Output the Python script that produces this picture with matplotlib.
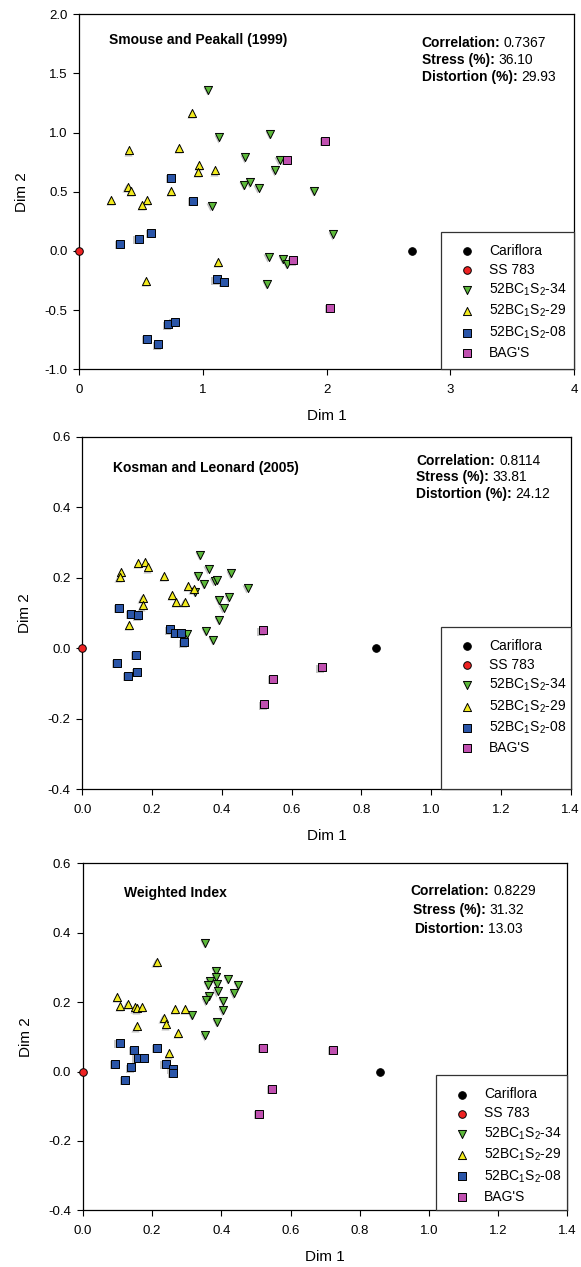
import matplotlib
matplotlib.use("Agg")
import matplotlib.pyplot as plt
import matplotlib.transforms as mtransforms
from matplotlib.patches import Rectangle
from matplotlib.ticker import FormatStrFormatter

plt.rcParams['font.family'] = ['Liberation Sans', 'DejaVu Sans']
plt.rcParams['mathtext.fontset'] = 'custom'
plt.rcParams['mathtext.rm'] = 'Liberation Sans'
plt.rcParams['mathtext.it'] = 'Liberation Sans:italic'
plt.rcParams['mathtext.bf'] = 'Liberation Sans:bold'

# legend labels, in legend order
LABELS = ['Cariflora', 'SS 783', r'52BC$_1$S$_2$-34', r'52BC$_1$S$_2$-29',
          r'52BC$_1$S$_2$-08', "BAG'S"]

# ---- Smouse and Peakall (1999) ----
SP_CARIFLORA = [(2.69, 0.0)]
SP_SS783 = [(0.0, 0.0)]
SP_34 = [(1.04, 1.36), (1.13, 0.96), (1.54, 0.99), (1.34, 0.79), (1.62, 0.77),
         (1.58, 0.68), (1.33, 0.56), (1.38, 0.58), (1.45, 0.53), (1.07, 0.38),
         (1.90, 0.51), (2.05, 0.14), (1.53, -0.05), (1.65, -0.07), (1.68, -0.11),
         (1.52, -0.28)]
SP_29 = [(0.91, 1.17), (0.40, 0.85), (0.81, 0.87), (0.97, 0.73), (0.96, 0.67),
         (1.10, 0.68), (0.39, 0.54), (0.42, 0.51), (0.74, 0.51), (0.26, 0.43),
         (0.55, 0.43), (0.51, 0.39), (1.12, -0.09), (0.54, -0.25)]
SP_08 = [(0.74, 0.62), (0.92, 0.42), (0.58, 0.15), (0.48, 0.10), (0.33, 0.06),
         (1.11, -0.24), (1.17, -0.26), (0.72, -0.62), (0.77, -0.60), (0.55, -0.74),
         (0.64, -0.79)]
SP_BAGS = [(1.99, 0.93), (1.68, 0.77), (1.73, -0.08), (2.03, -0.48)]
SP_STATS = [('Correlation:', '0.7367'), ('Stress (%):', '36.10'),
            ('Distortion (%):', '29.93')]

# ---- Kosman and Leonard (2005) ----
KL_CARIFLORA = [(0.842, 0.0)]
KL_SS783 = [(0.0, 0.0)]
KL_34 = [(0.337, 0.264), (0.362, 0.224), (0.332, 0.206), (0.427, 0.212),
         (0.349, 0.182), (0.379, 0.191), (0.385, 0.193), (0.474, 0.171),
         (0.323, 0.160), (0.393, 0.136), (0.420, 0.144), (0.405, 0.115),
         (0.393, 0.079), (0.356, 0.049), (0.376, 0.023), (0.299, 0.040)]
KL_29 = [(0.160, 0.242), (0.181, 0.244), (0.189, 0.229), (0.112, 0.216),
         (0.107, 0.202), (0.234, 0.206), (0.304, 0.177), (0.319, 0.167),
         (0.258, 0.150), (0.269, 0.131), (0.293, 0.131), (0.173, 0.142),
         (0.173, 0.121), (0.134, 0.066)]
KL_08 = [(0.106, 0.113), (0.139, 0.096), (0.161, 0.093), (0.251, 0.053),
         (0.267, 0.043), (0.282, 0.043), (0.292, 0.016), (0.155, -0.020),
         (0.100, -0.041), (0.156, -0.067), (0.132, -0.078)]
KL_BAGS = [(0.517, 0.050), (0.548, -0.088), (0.686, -0.055), (0.520, -0.160)]
KL_STATS = [('Correlation:', '0.8114'), ('Stress (%):', '33.81'),
            ('Distortion (%):', '24.12')]

# ---- Weighted Index ----
WI_CARIFLORA = [(0.859, 0.0)]
WI_SS783 = [(0.0, 0.0)]
WI_34 = [(0.354, 0.370), (0.385, 0.290), (0.384, 0.273), (0.367, 0.260),
         (0.387, 0.253), (0.362, 0.249), (0.419, 0.267), (0.449, 0.249),
         (0.389, 0.231), (0.365, 0.217), (0.437, 0.225), (0.355, 0.205),
         (0.406, 0.203), (0.406, 0.176), (0.315, 0.163), (0.387, 0.144),
         (0.354, 0.104)]
WI_29 = [(0.213, 0.315), (0.098, 0.215), (0.108, 0.188), (0.129, 0.195),
         (0.151, 0.185), (0.156, 0.182), (0.170, 0.187), (0.267, 0.180),
         (0.296, 0.180), (0.233, 0.154), (0.240, 0.136), (0.155, 0.130),
         (0.276, 0.112), (0.250, 0.052)]
WI_08 = [(0.106, 0.082), (0.092, 0.023), (0.147, 0.063), (0.158, 0.040),
         (0.176, 0.040), (0.215, 0.069), (0.239, 0.023), (0.139, 0.012),
         (0.122, -0.025), (0.259, 0.008), (0.261, -0.003)]
WI_BAGS = [(0.521, 0.069), (0.724, 0.063), (0.546, -0.050), (0.509, -0.122)]
WI_STATS = [('Correlation:', '0.8229'), ('Stress (%):', '31.32'),
            ('Distortion:', '13.03')]

# marker styles per group (same order as LABELS)
STYLES = [
    dict(marker='o', c='black', s=30),
    dict(marker='o', c='#ee2222', s=30),
    dict(marker='v', c='#5cb83a', s=34),
    dict(marker='^', c='#f2ea1e', s=34),
    dict(marker='s', c='#2a55a8', s=26),
    dict(marker='s', c='#c050b0', s=26),
]

W, H = 581, 1267
fig = plt.figure(figsize=(W / 100, H / 100), dpi=100)


def px_rect(left, right, top, bottom):
    return [left / W, 1 - bottom / H, (right - left) / W, (bottom - top) / H]


def draw_panel(rect, groups, xlim, xticks, xfmt, ylim, yticks, title, title_xy,
               stats, stats_x, stats_y0, stats_dy, leg_left, leg_top):
    ax = fig.add_axes(rect)
    shadow = mtransforms.offset_copy(ax.transData, fig=fig, x=-1.2, y=-1.2, units='dots')
    handles = []
    for pts, st in zip(groups, STYLES):
        xs = [p[0] for p in pts]
        ys = [p[1] for p in pts]
        if st['c'] not in ('black', '#ee2222'):
            ax.scatter(xs, ys, marker=st['marker'], s=st['s'], c='#c4c4c4',
                       linewidths=0, transform=shadow, zorder=2, clip_on=False)
        h = ax.scatter(xs, ys, marker=st['marker'], s=st['s'], c=st['c'],
                       edgecolors='black', linewidths=0.7, zorder=3, clip_on=False)
        handles.append(h)

    ax.set_xlim(*xlim)
    ax.set_ylim(*ylim)
    ax.set_xticks(xticks)
    ax.set_yticks(yticks)
    ax.xaxis.set_major_formatter(FormatStrFormatter(xfmt))
    ax.yaxis.set_major_formatter(FormatStrFormatter('%.1f'))
    ax.tick_params(direction='out', length=4.5, width=0.8, labelsize=9.5,
                   top=False, right=False)
    ax.tick_params(axis='x', pad=6)
    ax.tick_params(axis='y', pad=4)
    for sp in ax.spines.values():
        sp.set_linewidth(0.9)
    ax.set_xlabel('Dim 1', fontsize=11, va='center')
    ax.set_ylabel('Dim 2', fontsize=11, va='center')
    ax.xaxis.set_label_coords(0.5, -47 / (rect[3] * H))
    ax.yaxis.set_label_coords(-57 / (rect[2] * W), 0.5)

    ax.text(title_xy[0], title_xy[1], title, transform=ax.transAxes,
            fontsize=10, fontweight='bold', ha='left', va='center')

    # bold label followed by the plain value
    for i, (lab, val) in enumerate(stats):
        t = ax.text(stats_x[i], stats_y0 - i * stats_dy, lab, transform=ax.transAxes,
                    fontsize=10, fontweight='bold', ha='left', va='center')
        ax.annotate(val, xy=(1, 0), xycoords=t, xytext=(2.6, 0),
                    textcoords='offset points', fontsize=10, ha='left', va='bottom')

    # legend box reaching to the right and bottom of the axes
    ax.add_patch(Rectangle((leg_left, 0), 1 - leg_left, leg_top, transform=ax.transAxes,
                           facecolor='white', edgecolor='#333333', lw=0.9,
                           zorder=4, clip_on=False))
    axw = rect[2] * W
    axh = rect[3] * H
    ax.legend(handles, LABELS, loc='upper left',
              bbox_to_anchor=(leg_left + 19 / axw, leg_top - 12 / axh),
              frameon=False, fontsize=10, scatterpoints=1, borderpad=0,
              borderaxespad=0, handlelength=1.0, handletextpad=1.12,
              labelspacing=0.36).set_zorder(5)
    return ax


draw_panel(px_rect(79.3, 574, 14.3, 369.3),
           [SP_CARIFLORA, SP_SS783, SP_34, SP_29, SP_08, SP_BAGS],
           (0, 4), [0, 1, 2, 3, 4], '%d', (-1.0, 2.0),
           [-1.0, -0.5, 0.0, 0.5, 1.0, 1.5, 2.0],
           'Smouse and Peakall (1999)', (0.060, 0.928),
           SP_STATS, [0.692, 0.692, 0.692], 0.918, 0.047, 0.7305, 0.388)

draw_panel(px_rect(82.3, 570.7, 436.7, 789),
           [KL_CARIFLORA, KL_SS783, KL_34, KL_29, KL_08, KL_BAGS],
           (0, 1.4), [0.0, 0.2, 0.4, 0.6, 0.8, 1.0, 1.2, 1.4], '%.1f', (-0.4, 0.6),
           [-0.4, -0.2, 0.0, 0.2, 0.4, 0.6],
           'Kosman and Leonard (2005)', (0.062, 0.910),
           KL_STATS, [0.685, 0.683, 0.683], 0.931, 0.0468, 0.734, 0.46)

draw_panel(px_rect(83, 567.3, 863.3, 1210.3),
           [WI_CARIFLORA, WI_SS783, WI_34, WI_29, WI_08, WI_BAGS],
           (0, 1.4), [0.0, 0.2, 0.4, 0.6, 0.8, 1.0, 1.2, 1.4], '%.1f', (-0.4, 0.6),
           [-0.4, -0.2, 0.0, 0.2, 0.4, 0.6],
           'Weighted Index', (0.085, 0.914),
           WI_STATS, [0.677, 0.681, 0.683], 0.921, 0.0553, 0.7285, 0.389)

fig.savefig('out.png', dpi=100, facecolor='white')
